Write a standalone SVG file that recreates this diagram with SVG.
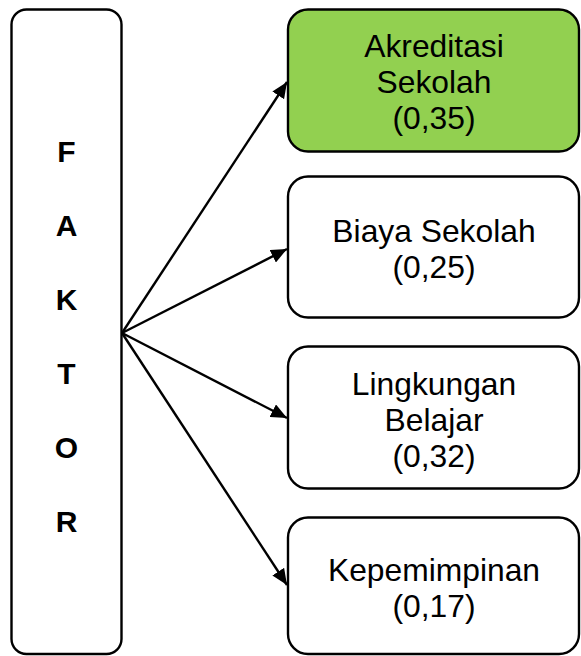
<svg xmlns="http://www.w3.org/2000/svg" width="581" height="656" viewBox="0 0 581 656">
  <style>
    .box { fill: #ffffff; stroke: #000000; stroke-width: 2.4; }
    .green { fill: #92D050; }
    .lbl { font-family: "Liberation Sans", Arial, sans-serif; font-size: 31.8px; fill: #000000; text-anchor: middle; }
    .fak { font-family: "Liberation Sans", Arial, sans-serif; font-size: 30px; font-weight: bold; fill: #000000; text-anchor: middle; }
    .edge { stroke: #000000; stroke-width: 2.4; fill: none; marker-end: url(#arrow); }
  </style>
  <defs>
    <marker id="arrow" markerUnits="userSpaceOnUse" markerWidth="18" markerHeight="14" refX="16" refY="7" orient="auto">
      <path d="M0,0 L16,7 L0,14 Z" fill="#000000"/>
    </marker>
  </defs>
  <rect width="581" height="656" fill="#ffffff"/>
  <g id="connectors">
    <line class="edge" x1="122" y1="333" x2="287" y2="82"/>
    <line class="edge" x1="122" y1="333" x2="287" y2="249"/>
    <line class="edge" x1="122" y1="333" x2="287" y2="418"/>
    <line class="edge" x1="122" y1="333" x2="287" y2="585"/>
  </g>
  <g id="faktor">
    <rect class="box" x="11.5" y="9.5" width="110" height="644.5" rx="15"/>
    <text class="fak" x="66.5" y="162">F</text>
    <text class="fak" x="66.5" y="236">A</text>
    <text class="fak" x="66.5" y="310">K</text>
    <text class="fak" x="66.5" y="384">T</text>
    <text class="fak" x="66.5" y="458">O</text>
    <text class="fak" x="66.5" y="532">R</text>
  </g>
  <g id="akreditasi">
    <rect class="box green" x="288" y="9.5" width="291" height="142" rx="20"/>
    <text class="lbl" x="434" y="57">Akreditasi</text>
    <text class="lbl" x="434" y="93">Sekolah</text>
    <text class="lbl" x="434" y="129">(0,35)</text>
  </g>
  <g id="biaya">
    <rect class="box" x="288" y="176.5" width="291" height="141" rx="20"/>
    <text class="lbl" x="434" y="242">Biaya Sekolah</text>
    <text class="lbl" x="434" y="278">(0,25)</text>
  </g>
  <g id="lingkungan">
    <rect class="box" x="288" y="346.5" width="291" height="142" rx="20"/>
    <text class="lbl" x="434" y="395">Lingkungan</text>
    <text class="lbl" x="434" y="431">Belajar</text>
    <text class="lbl" x="434" y="467">(0,32)</text>
  </g>
  <g id="kepemimpinan">
    <rect class="box" x="288" y="517.5" width="291" height="136.5" rx="20"/>
    <text class="lbl" x="434" y="581">Kepemimpinan</text>
    <text class="lbl" x="434" y="617">(0,17)</text>
  </g>
</svg>
